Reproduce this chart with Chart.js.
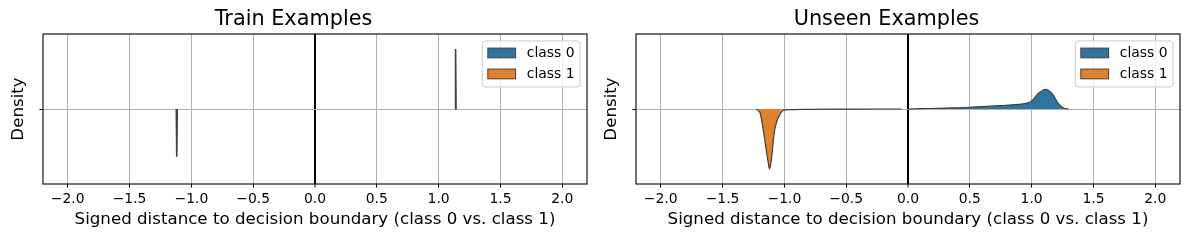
<!DOCTYPE html>
<html><head><meta charset="utf-8">
<script src="https://cdn.jsdelivr.net/npm/chart.js"></script>
<style>
html,body{margin:0;padding:0;background:#fff;}
#wrap{position:relative;width:1189px;height:240px;overflow:hidden;background:#fff;}
canvas{position:absolute;top:0;}
#c1{left:0px}
#c2{left:593px}
</style></head><body>
<div id="wrap"><canvas id="c1" width="594" height="240"></canvas><canvas id="c2" width="594" height="240"></canvas></div>
<script>
// ---------- data ----------
const panelTitles = ['Train Examples', 'Unseen Examples'];
const seriesLabels = ['class 0', 'class 1'];
const seriesColors = ['#3274a1', '#e1812c'];
const xTickValues = [-2, -1.5, -1, -0.5, 0, 0.5, 1, 1.5, 2];
const xTickLabels = ['\u22122.0', '\u22121.5', '\u22121.0', '\u22120.5', '0.0', '0.5', '1.0', '1.5', '2.0'];
const yTickValues = [0];
const xLabel = 'Signed distance to decision boundary (class 0 vs. class 1)';
const yLabel = 'Density';

// Train examples: (x, half-violin density) — essentially spikes
const trainX0 = [1.133, 1.137, 1.141];
const trainD0 = [0, 0.40, 0];
const trainX1 = [-1.122, -1.118, -1.114];
const trainD1 = [0, 0.318, 0];

// Unseen examples: class 0 (upper half)
const unseenX0 = [0.0, 0.1, 0.3, 0.497, 0.738, 0.858, 0.978, 1.005, 1.032, 1.058, 1.085, 1.111, 1.131, 1.152, 1.179, 1.205, 1.232, 1.259, 1.30];
const unseenD0 = [0, 0.002, 0.006, 0.011, 0.022, 0.029, 0.043, 0.057, 0.083, 0.107, 0.122, 0.131, 0.127, 0.113, 0.087, 0.050, 0.022, 0.007, 0];
// Unseen examples: class 1 (lower half)
const unseenX1 = [-1.225, -1.21, -1.196, -1.175, -1.158, -1.142, -1.129, -1.120, -1.110, -1.099, -1.089, -1.073, -1.029, -1.01, -0.95, -0.8, -0.5, -0.05];
const unseenD1 = [0, 0.012, 0.027, 0.117, 0.207, 0.297, 0.365, 0.400, 0.365, 0.297, 0.207, 0.117, 0.027, 0.010, 0.004, 0.002, 0.001, 0];

// Quartile lines (position, density height at that position)
const unseenQX0 = [0.858, 1.068, 1.115];
const unseenQH0 = [0.029, 0.113, 0.131];
const unseenQX1 = [-1.124, -1.120, -1.116];
const unseenQH1 = [0.385, 0.400, 0.390];

// ---------- styling ----------
const FAMILY = "'DejaVu Sans', sans-serif";
const EDGE = '#404040';
Chart.defaults.color = '#000';
Chart.defaults.font.family = FAMILY;

function violin(xs, ds, sign, color, label, smooth, bw) {
  return {
    type: 'scatter', label: label,
    data: xs.map((x, i) => ({x: x, y: sign * ds[i]})),
    showLine: true, fill: 'origin',
    backgroundColor: color, borderColor: EDGE, borderWidth: bw,
    pointRadius: 0, pointHoverRadius: 0,
    cubicInterpolationMode: smooth ? 'monotone' : 'default', tension: 0
  };
}
function qlines(qx, qh, sign, dashes) {
  return qx.map((x, i) => ({
    type: 'scatter',
    data: [{x: x, y: 0}, {x: x, y: sign * qh[i]}],
    showLine: true, fill: false,
    borderColor: EDGE, borderWidth: 1.1, borderDash: dashes[i],
    pointRadius: 0, pointHoverRadius: 0
  }));
}

const framePlugin = {
  id: 'frameAndLegend',
  afterDraw(chart) {
    const ctx = chart.ctx, a = chart.chartArea;
    ctx.save();
    ctx.strokeStyle = '#000';
    ctx.lineWidth = 1.1;
    ctx.strokeRect(a.left, a.top, a.right - a.left, a.bottom - a.top);
    // legend (upper right inside axes)
    const fs = 13.9;
    ctx.font = fs + 'px ' + FAMILY;
    const items = chart.data.datasets.filter(d => seriesLabels.includes(d.label));
    let tw = 0;
    items.forEach(d => { tw = Math.max(tw, ctx.measureText(d.label).width); });
    const pad = 0.4 * fs, hl = 2 * fs, htp = 0.8 * fs;
    const w = pad + hl + htp + tw + pad;
    const h = 46;
    const right = a.right - 0.5 * fs, top = a.top + 0.5 * fs;
    const left = right - w;
    const r = 3;
    ctx.beginPath();
    ctx.moveTo(left + r, top);
    ctx.lineTo(right - r, top); ctx.arcTo(right, top, right, top + r, r);
    ctx.lineTo(right, top + h - r); ctx.arcTo(right, top + h, right - r, top + h, r);
    ctx.lineTo(left + r, top + h); ctx.arcTo(left, top + h, left, top + h - r, r);
    ctx.lineTo(left, top + r); ctx.arcTo(left, top, left + r, top, r);
    ctx.closePath();
    ctx.fillStyle = 'rgba(255,255,255,0.8)';
    ctx.fill();
    ctx.strokeStyle = '#cccccc';
    ctx.lineWidth = 1;
    ctx.stroke();
    items.forEach((d, i) => {
      const cy = top + 12 + i * 21;
      ctx.fillStyle = d.backgroundColor;
      ctx.fillRect(left + pad, cy - 0.35 * fs, hl, 0.7 * fs);
      ctx.strokeStyle = EDGE; ctx.lineWidth = 1;
      ctx.strokeRect(left + pad, cy - 0.35 * fs, hl, 0.7 * fs);
      ctx.fillStyle = '#000';
      ctx.textBaseline = 'middle';
      ctx.textAlign = 'left';
      ctx.fillText(d.label, left + pad + hl + htp, cy + 0.5);
    });
    ctx.restore();
  }
};

function makeChart(id, title, datasets) {
  return new Chart(document.getElementById(id), {
    type: 'scatter',
    data: {datasets: datasets},
    plugins: [framePlugin],
    options: {
      responsive: false, animation: false, devicePixelRatio: 1,
      layout: {padding: {left: 0, right: 7, top: 0, bottom: 0}},
      plugins: {
        legend: {display: false},
        tooltip: {enabled: false},
        title: {display: true, text: title, color: '#000',
          font: {size: 20.8, family: FAMILY, weight: 'normal', lineHeight: 1.2},
          padding: {top: 7, bottom: 2.04}}
      },
      scales: {
        x: {
          type: 'linear', min: -2.2, max: 2.2, z: 1,
          afterBuildTicks: s => { s.ticks = xTickValues.map(v => ({value: v})); },
          afterFit: s => { s.height = 56; },
          ticks: {callback: (v, i) => xTickLabels[i], font: {size: 13.9, family: FAMILY},
            color: '#000', padding: 3.7, maxRotation: 0, autoSkip: false},
          grid: {
            color: c => (c.tick && c.tick.value === 0) ? '#000' : '#b0b0b0',
            lineWidth: c => (c.tick && c.tick.value === 0) ? 2 : 1,
            tickLength: 3.5, tickColor: '#000', tickWidth: 1
          },
          border: {display: false},
          title: {display: true, text: xLabel, color: '#000',
            font: {size: 16.67, family: FAMILY, lineHeight: 1.2}, padding: {top: 0, bottom: 10}}
        },
        y: {
          type: 'linear', min: -0.5, max: 0.5, z: 1,
          afterBuildTicks: s => { s.ticks = yTickValues.map(v => ({value: v})); },
          afterFit: s => { s.width = 43; },
          ticks: {callback: () => '', font: {size: 13.9, family: FAMILY}, padding: 3.5},
          grid: {color: '#b0b0b0', lineWidth: 1, tickLength: 3.5, tickColor: '#000', tickWidth: 1},
          border: {display: false},
          title: {display: true, text: yLabel, color: '#000',
            font: {size: 16.67, family: FAMILY, lineHeight: 1.2}, padding: {top: 9, bottom: 0}}
        }
      }
    }
  });
}

makeChart('c1', panelTitles[0], [
  violin(trainX0, trainD0, 1, seriesColors[0], seriesLabels[0], false, 1.6),
  violin(trainX1, trainD1, -1, seriesColors[1], seriesLabels[1], false, 1.6)
]);
makeChart('c2', panelTitles[1], [
  violin(unseenX0, unseenD0, 1, seriesColors[0], seriesLabels[0], true, 1.2),
  violin(unseenX1, unseenD1, -1, seriesColors[1], seriesLabels[1], true, 1.2)
].concat(qlines(unseenQX0, unseenQH0, 1, [[1.5, 1.5], [3, 3], [1.5, 1.5]]))
 .concat(qlines(unseenQX1, unseenQH1, -1, [[1.5, 1.5], [3, 3], [1.5, 1.5]])));
</script>
</body></html>
